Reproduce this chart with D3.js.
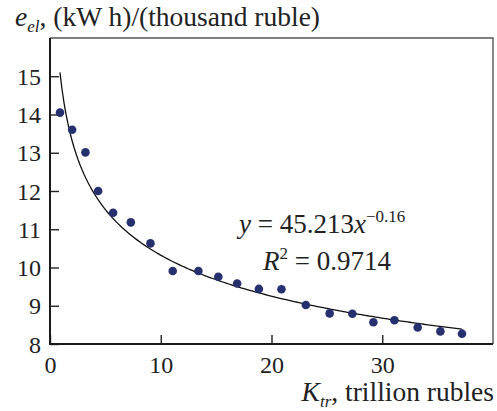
<!DOCTYPE html>
<html>
<head>
<meta charset="utf-8">
<script src="https://cdn.jsdelivr.net/npm/d3@7"></script>
<style>
  body { margin: 0; background: #fff; }
</style>
</head>
<body>
<div id="chart"></div>
<script>
// --- Data ---
const capital = [0.9, 2.0, 3.2, 4.35, 5.7, 7.3, 9.07, 11.08, 13.4, 15.2, 16.9, 18.86, 20.9, 23.1, 25.25, 27.3, 29.2, 31.1, 33.2, 35.25, 37.2];
const intensity = [14.05, 13.6, 13.01, 12.0, 11.43, 11.18, 10.63, 9.91, 9.91, 9.76, 9.58, 9.44, 9.43, 9.02, 8.80, 8.79, 8.57, 8.62, 8.43, 8.33, 8.27];
const xTicks = [0, 10, 20, 30];
const yTicks = [8, 9, 10, 11, 12, 13, 14, 15];
// power trend drawn on the chart (in plot units)
const trendA = 14.85, trendB = -0.158;
const trendRange = [0.9, 37.2];

const W = 497, H = 411;
const plot = { left: 50, right: 493, top: 38, bottom: 344 };
const FONT = "Liberation Serif";
const TICK_FS = 24, FS = 27, TITLE_FS = 27.5, SUB = 17;

const svg = d3.select("#chart").append("svg")
    .attr("width", W)
    .attr("height", H)
    .style("font-family", FONT);

const x = d3.scaleLinear().domain([0, 40]).range([plot.left, plot.right]);
const y = d3.scaleLinear().domain([8, 16]).range([plot.bottom, plot.top]);

// frame (top/right thinner, grey)
svg.append("path")
    .attr("d", `M${plot.left},${plot.top}H${plot.right}V${plot.bottom}`)
    .attr("fill", "none")
    .attr("stroke", "#555")
    .attr("stroke-width", 1.4);

// axes with inward ticks
const xAxis = svg.append("g")
    .attr("transform", `translate(0,${plot.bottom})`)
    .call(d3.axisBottom(x).tickValues(xTicks).tickSizeInner(-9).tickSizeOuter(0));
const yAxis = svg.append("g")
    .attr("transform", `translate(${plot.left},0)`)
    .call(d3.axisLeft(y).tickValues(yTicks).tickSizeInner(-9).tickSizeOuter(0));

[xAxis, yAxis].forEach(g => {
    g.attr("font-family", null).attr("font-size", null);
    g.select(".domain").remove();
    g.selectAll(".tick line").attr("stroke", "#222").attr("stroke-width", 1.4);
    g.selectAll(".tick text")
        .style("font-family", FONT)
        .style("font-size", TICK_FS + "px")
        .attr("fill", "#222");
});
xAxis.selectAll(".tick text").attr("y", 12).attr("dy", "0.71em");
yAxis.selectAll(".tick text").attr("x", -9).attr("dy", "0.34em");

// main axis lines (left and bottom, thicker)
svg.append("path")
    .attr("d", `M${plot.left},${plot.top}V${plot.bottom}H${plot.right}`)
    .attr("fill", "none")
    .attr("stroke", "#1a1a1a")
    .attr("stroke-width", 2);

// trend curve
const trend = d3.range(0, 201).map(i => {
    const xv = trendRange[0] + (trendRange[1] - trendRange[0]) * i / 200;
    return [xv, trendA * Math.pow(xv, trendB)];
});
svg.append("path")
    .datum(trend)
    .attr("fill", "none")
    .attr("stroke", "#111")
    .attr("stroke-width", 1.3)
    .attr("d", d3.line().x(d => x(d[0])).y(d => y(d[1])));

// points
svg.append("g")
    .selectAll("circle")
    .data(capital.map((c, i) => [c, intensity[i]]))
    .join("circle")
    .attr("cx", d => x(d[0]))
    .attr("cy", d => y(d[1]))
    .attr("r", 4.3)
    .attr("fill", "#27306f");

const textColor = "#222";
function label(px, py, anchor, size) {
    return svg.append("text")
        .attr("x", px).attr("y", py)
        .attr("text-anchor", anchor || "start")
        .style("font-family", FONT)
        .style("font-size", (size || FS) + "px")
        .attr("fill", textColor);
}

// y axis title
const yt = label(15, 26, "start", TITLE_FS);
yt.append("tspan").attr("font-style", "italic").text("e");
yt.append("tspan").attr("font-style", "italic").style("font-size", SUB + "px").attr("dy", 6).text("el");
yt.append("tspan").attr("dy", -6).text(", (kW h)/(thousand ruble)");

// x axis title
const xt = label(494, 401, "end", TITLE_FS);
xt.append("tspan").attr("font-style", "italic").text("K");
xt.append("tspan").attr("font-style", "italic").style("font-size", SUB + "px").attr("dy", 6).text("tr");
xt.append("tspan").attr("dy", -6).text(", trillion rubles");

// equation
const eq = label(239, 233);
eq.append("tspan").attr("font-style", "italic").text("y");
eq.append("tspan").text(" = 45.213");
eq.append("tspan").attr("font-style", "italic").text("x");
eq.append("tspan").style("font-size", SUB + "px").attr("dy", -11).text("\u22120.16");

const r2 = label(263, 270);
r2.append("tspan").attr("font-style", "italic").text("R");
r2.append("tspan").style("font-size", SUB + "px").attr("dy", -11).text("2");
r2.append("tspan").attr("dy", 11).text(" = 0.9714");
</script>
</body>
</html>
